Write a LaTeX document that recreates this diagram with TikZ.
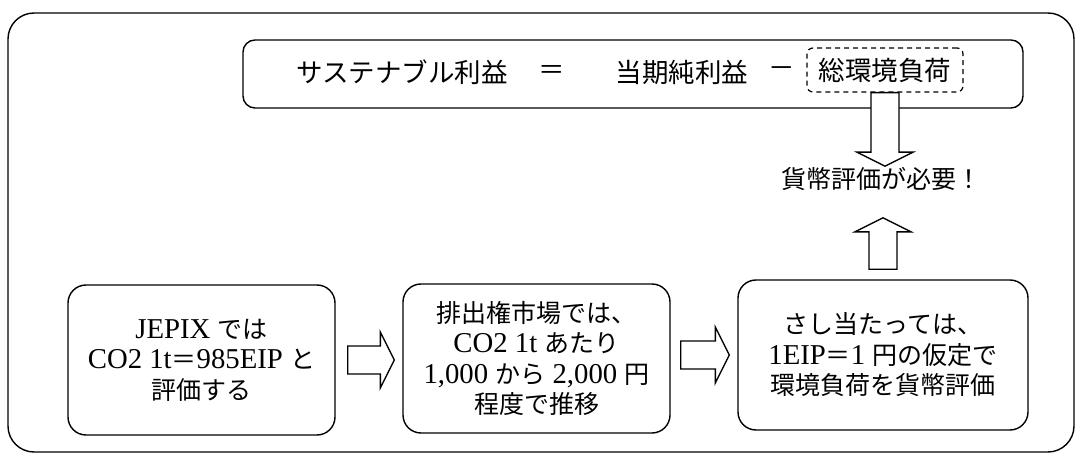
\documentclass[tikz,border=0pt]{standalone}
\usepackage{fontspec}
\setmainfont{Liberation Serif}[Scale=1.15]
\newfontfamily\jp{Noto Sans CJK JP}
\usetikzlibrary{calc}

\tikzset{
  panel/.style={draw, line width=1.4pt, rounded corners=18pt, align=center,
    inner sep=0pt, font=\fontsize{25}{30.5}\selectfont},
  formula/.style={font=\jp\fontsize{26.5}{30}\selectfont, inner sep=0pt},
  blockarrow/.style={draw, line width=1.4pt, fill=white, line join=miter},
}
% hollow block arrow between two points, with gaps at both ends
\def\blockarrow(#1)(#2)#3#4{%
  \coordinate (ba-s) at ($(#1)!#3!(#2)$);
  \coordinate (ba-e) at ($(#2)!#4!(#1)$);
  \coordinate (ba-h) at ($(ba-e)!14pt!(ba-s)$);
  \draw[blockarrow] ($(ba-s)!14pt!90:(ba-e)$) -- ($(ba-h)!14pt!90:(ba-e)$)
    -- ($(ba-h)!28pt!90:(ba-e)$) -- (ba-e) -- ($(ba-h)!28pt!-90:(ba-e)$)
    -- ($(ba-h)!14pt!-90:(ba-e)$) -- ($(ba-s)!14pt!-90:(ba-e)$) -- cycle;
}

\begin{document}
\begin{tikzpicture}[x=1pt, y=-1pt]
	\useasboundingbox (0,0) rectangle (1077,457);
	
	%%%%% frame %%%%%
	\draw[line width=1.4pt, rounded corners=26pt] (8,13) rectangle (1074,452);
	
	%%%%% formula %%%%%
	\node[draw, line width=1.4pt, rounded corners=12pt, minimum width=780, minimum height=68] (formula) at (633,74) {};
	\node[formula] (sust) at (402,72) {サステナブル利益};
	\node[formula] (eq) at (552,72) {＝};
	\node[formula] (net) at (682,72) {当期純利益};
	\node[formula] (minus) at (782,72) {－};
	\node[formula, draw, dash pattern=on 5pt off 4pt, line width=1.2pt, rounded corners=6pt,
	  minimum width=156, minimum height=44] (load) at (885,70) {総環境負荷};
	
	\node[formula, font=\jp\fontsize{25}{30}\selectfont] (need) at (881,179) {貨幣評価が必要！};
	
	%%%%% boxes %%%%%
	\node[panel, minimum width=267, minimum height=150] (jepix) at (201.5,360)
	  {JEPIX {\jp では}\\CO2 1t{\jp ＝}985EIP {\jp と}\\{\jp 評価する}};
	\node[panel, minimum width=267, minimum height=149] (market) at (536.5,358.5)
	  {{\jp 排出権市場では、}\\CO2 1t {\jp あたり}\\1,000 {\jp から} 2,000 {\jp 円}\\{\jp 程度で推移}};
	\node[panel, minimum width=290, minimum height=150] (assume) at (883,355)
	  {{\jp さし当たっては、}\\1EIP{\jp ＝}1 {\jp 円の仮定で}\\{\jp 環境負荷を貨幣評価}};
	
	%%%%% arrows %%%%%
	\blockarrow(jepix.east)(market.west |- jepix.east){12pt}{8pt}
	\blockarrow(market.east |- assume.west)(assume.west){10pt}{8pt}
	\blockarrow(load.south)(load.south |- need.north){0pt}{1pt}
	\blockarrow(assume.north)(assume.north |- need.south){10pt}{27pt}
	
\end{tikzpicture}
\end{document}
